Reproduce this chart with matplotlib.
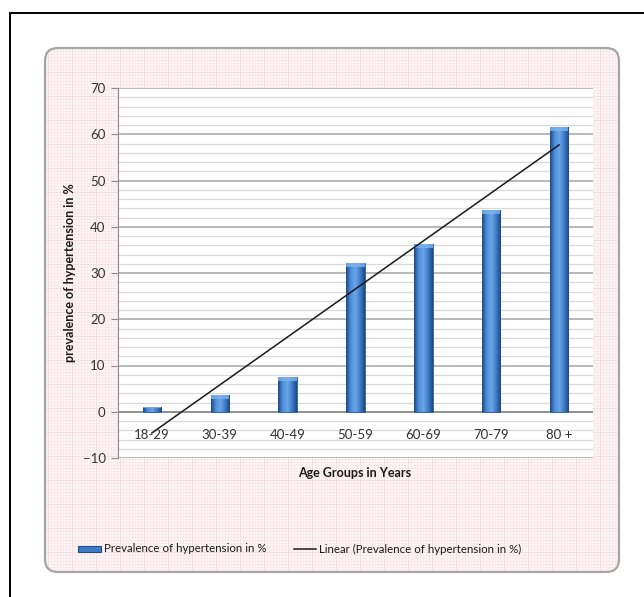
import numpy as np
import matplotlib
matplotlib.use("Agg")
import matplotlib.pyplot as plt
from matplotlib.patches import FancyBboxPatch, Rectangle
from matplotlib.lines import Line2D
from matplotlib.colors import LinearSegmentedColormap
from matplotlib.ticker import MultipleLocator

plt.rcParams["font.family"] = ["Lato", "DejaVu Sans"]

age_groups = ["18-29", "30-39", "40-49", "50-59", "60-69", "70-79", "80 +"]
prevalence = [1.0, 3.6, 7.6, 32.2, 36.2, 43.7, 61.6]

W, H = 644, 597
fig = plt.figure(figsize=(W / 100, H / 100), dpi=100)
fig.patch.set_facecolor("white")

# --- background: outer frame + rounded pink graph-paper panel -----------------
bg = fig.add_axes([0, 0, 1, 1])
bg.set_xlim(0, W)
bg.set_ylim(H, 0)
bg.axis("off")

pat = np.ones((H, W, 3))
base = np.array([253, 246, 247]) / 255
fine = np.array([250, 233, 236]) / 255
bold = np.array([246, 221, 225]) / 255
pat[:, :] = base
pat[::3, :] = fine
pat[:, ::3] = fine
pat[::24, :] = bold
pat[:, ::24] = bold
img = bg.imshow(pat, extent=(0, W, H, 0), interpolation="nearest")
panel = FancyBboxPatch((45, 48), 574, 524, boxstyle="round,pad=0,rounding_size=13",
                       transform=bg.transData, fc="none", ec="#a6a6a6", lw=1.6)
bg.add_patch(panel)
img.set_clip_path(panel)

bg.add_line(Line2D([10, 10], [13, H], color="black", lw=1.4))
bg.add_line(Line2D([10, W], [13, 13], color="black", lw=1.4))

# --- plot area ----------------------------------------------------------------
ax = fig.add_axes([118 / W, 1 - 458 / H, (593 - 118) / W, (458 - 88) / H])
ax.set_facecolor("white")
x = np.arange(1, len(age_groups) + 1)
ax.set_xlim(0.5, len(age_groups) + 0.5)
ax.set_ylim(-10, 70)

ax.yaxis.set_major_locator(MultipleLocator(10))
ax.yaxis.set_minor_locator(MultipleLocator(2))
ax.grid(which="major", axis="y", color="#a6a6a6", lw=1.1, zorder=0)
ax.grid(which="minor", axis="y", color="#d9d9d9", lw=0.9, zorder=0)
ax.set_axisbelow(True)
for s in ["top", "right", "bottom"]:
    ax.spines[s].set_visible(False)
ax.spines["left"].set_color("#8c8c8c")
ax.tick_params(axis="y", which="major", length=5, color="#8c8c8c",
               labelsize=9.5, labelcolor="#333333", pad=4)
ax.tick_params(axis="y", which="minor", length=0)
ax.tick_params(axis="x", length=0, labelbottom=False)
ax.axhline(0, color="#8c8c8c", lw=1.2, zorder=1)

# bars with a horizontal shaded gradient
bar_w = 0.27
cmap = LinearSegmentedColormap.from_list(
    "barshade", ["#1d4a86", "#4f8fd8", "#6aa6ea", "#3f7cc6", "#1d4a86"])
grad = np.linspace(0, 1, 64).reshape(1, -1)
bars = ax.bar(x, prevalence, width=bar_w, color="#3f7cc6", edgecolor="#2a5a99",
              lw=0.6, zorder=2)
for b in bars:
    gi = ax.imshow(grad, cmap=cmap, aspect="auto", zorder=2.5,
                   extent=(b.get_x(), b.get_x() + b.get_width(), 0, b.get_height()))
    gi.set_clip_path(b)
    cap = min(0.9, b.get_height() * 0.25)
    ax.add_patch(Rectangle((b.get_x(), b.get_height() - cap), b.get_width(), cap,
                           fc="#7db3f0", ec="none", alpha=0.8, zorder=2.6))
ax.set_xlim(0.5, len(age_groups) + 0.5)
ax.set_ylim(-10, 70)

# linear trendline
k, c = np.polyfit(x, prevalence, 1)
ax.plot([x[0], x[-1]], [k * x[0] + c, k * x[-1] + c], color="#1a1a1a", lw=1.1, zorder=3)

for xi, lab in zip(x, age_groups):
    ax.text(xi, -5, lab, ha="center", va="center", fontsize=9.5, color="#333333", zorder=4)

ax.set_ylabel("prevalence of hypertension in %", fontsize=9, fontweight="bold",
              color="#1a1a1a", labelpad=5)
fig.text(355 / W, 1 - 473 / H, "Age Groups in Years", ha="center", va="center",
         fontsize=9, fontweight="bold", color="#1a1a1a")

# legend
bg.add_patch(Rectangle((78, 546), 23, 6, fc="#3f7cc6", ec="#1d4a86", lw=0.8))
bg.text(104, 549, "Prevalence of hypertension in %", va="center", fontsize=8.3,
        color="#1a1a1a")
bg.add_line(Line2D([294, 316], [549, 549], color="#1a1a1a", lw=1.1))
bg.text(319, 549, "Linear (Prevalence of hypertension in %)", va="center",
        fontsize=8.3, color="#1a1a1a")

fig.savefig("out.png", dpi=100)
